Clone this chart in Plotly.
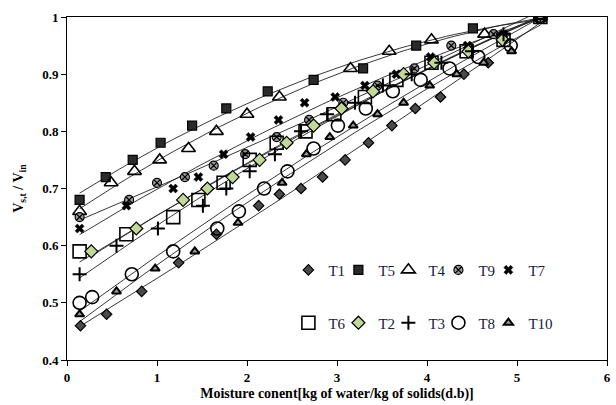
import numpy as np
import plotly.graph_objects as go

# ---- data ----
t1_x = [0.15, 0.44, 0.83, 1.24, 1.66, 2.13, 2.36, 2.60, 2.84, 3.09, 3.35, 3.61, 3.87, 4.15, 4.41, 4.68, 5.26]
t1_y = [0.46, 0.48, 0.52, 0.57, 0.62, 0.67, 0.69, 0.70, 0.72, 0.75, 0.78, 0.81, 0.84, 0.86, 0.90, 0.92, 1.00]

t5_x = [0.14, 0.43, 0.73, 1.04, 1.39, 1.77, 2.23, 2.74, 3.29, 3.88, 4.51, 5.26]
t5_y = [0.68, 0.72, 0.75, 0.78, 0.81, 0.84, 0.87, 0.89, 0.91, 0.95, 0.98, 1.00]

t4_x = [0.14, 0.49, 0.75, 1.03, 1.35, 1.66, 2.00, 2.36, 3.15, 3.58, 4.05, 4.64, 5.26]
t4_y = [0.66, 0.71, 0.73, 0.75, 0.77, 0.80, 0.83, 0.86, 0.91, 0.94, 0.96, 0.97, 1.00]

t9_x = [0.14, 0.69, 1.00, 1.31, 1.63, 1.98, 2.33, 2.69, 3.07, 3.45, 3.86, 4.27, 4.74, 5.26]
t9_y = [0.65, 0.68, 0.71, 0.72, 0.74, 0.76, 0.79, 0.82, 0.85, 0.88, 0.91, 0.95, 0.97, 1.00]

t7_x = [0.14, 0.66, 1.18, 1.46, 1.74, 2.04, 2.35, 2.64, 2.98, 3.31, 3.66, 4.04, 4.45, 4.85, 5.26]
t7_y = [0.63, 0.67, 0.70, 0.72, 0.76, 0.79, 0.82, 0.85, 0.86, 0.88, 0.90, 0.93, 0.95, 0.97, 1.00]

t6_x = [0.14, 0.66, 1.18, 1.46, 1.74, 2.03, 2.33, 2.65, 2.97, 3.31, 3.66, 4.05, 4.44, 4.85, 5.26]
t6_y = [0.59, 0.62, 0.65, 0.68, 0.71, 0.75, 0.78, 0.80, 0.83, 0.86, 0.89, 0.92, 0.94, 0.96, 1.00]

t2_x = [0.27, 0.77, 1.29, 1.56, 1.84, 2.14, 2.44, 2.74, 3.05, 3.40, 3.74, 4.08, 4.46, 4.84, 5.26]
t2_y = [0.59, 0.63, 0.68, 0.70, 0.72, 0.75, 0.78, 0.81, 0.84, 0.87, 0.90, 0.92, 0.94, 0.96, 1.00]

t3_x = [0.14, 0.55, 1.01, 1.51, 1.77, 2.03, 2.31, 2.60, 2.89, 3.20, 3.51, 3.83, 4.16, 4.50, 4.85, 5.26]
t3_y = [0.55, 0.60, 0.63, 0.67, 0.70, 0.73, 0.76, 0.80, 0.83, 0.85, 0.88, 0.90, 0.92, 0.94, 0.97, 1.00]

t8_x = [0.14, 0.28, 0.72, 1.18, 1.67, 1.91, 2.19, 2.45, 2.74, 3.01, 3.32, 3.62, 3.93, 4.25, 4.57, 4.93, 5.26]
t8_y = [0.50, 0.51, 0.55, 0.59, 0.63, 0.66, 0.70, 0.73, 0.77, 0.81, 0.84, 0.87, 0.89, 0.91, 0.93, 0.95, 1.00]

t10_x = [0.14, 0.55, 0.98, 1.42, 1.90, 2.39, 2.66, 2.92, 3.18, 3.45, 3.74, 4.03, 4.33, 4.63, 4.94, 5.26]
t10_y = [0.48, 0.52, 0.56, 0.59, 0.64, 0.71, 0.76, 0.79, 0.81, 0.83, 0.85, 0.88, 0.90, 0.92, 0.94, 1.00]

x_ticks = [0, 1, 2, 3, 4, 5, 6]
y_ticks = [0.4, 0.5, 0.6, 0.7, 0.8, 0.9, 1.0]
y_ticktext = ["0.4", "0.5", "0.6", "0.7", "0.8", "0.9", "1"]

SERIF = "Liberation Serif"

series = [
    # name, x, y, marker style, legend group, last-in-row
    ("T1", t1_x, t1_y, dict(symbol="diamond", size=8, color="#4a4a4a", line=dict(color="black", width=1.2)), "legend", False),
    ("T5", t5_x, t5_y, dict(symbol="square", size=9, color="#2a2a2a", line=dict(color="black", width=1.2)), "legend", False),
    ("T4", t4_x, t4_y, dict(symbol="triangle-up-open", size=12, color="black", line=dict(color="black", width=1.6)), "legend", False),
    ("T9", t9_x, t9_y, dict(symbol="circle-x", size=9, color="#9a9a9a", line=dict(color="black", width=1.2)), "legend", False),
    ("T7", t7_x, t7_y, dict(symbol="x", size=8, color="black", line=dict(color="black", width=0.5)), "legend", True),
    ("T6", t6_x, t6_y, dict(symbol="square-open", size=13, color="black", line=dict(color="black", width=1.6)), "legend2", False),
    ("T2", t2_x, t2_y, dict(symbol="diamond", size=10, color="#c4d79b", line=dict(color="black", width=1.2)), "legend2", False),
    ("T3", t3_x, t3_y, dict(symbol="cross-thin-open", size=10, color="black", line=dict(color="black", width=2)), "legend2", False),
    ("T8", t8_x, t8_y, dict(symbol="circle-open", size=13, color="black", line=dict(color="black", width=1.6)), "legend2", False),
    ("T10", t10_x, t10_y, dict(symbol="triangle-up", size=8, color="#9a9a9a", line=dict(color="black", width=2)), "legend2", True),
]

fig = go.Figure()

# trend lines (2nd-order fits of each series)
for name, xs, ys, mk, lg, last in series:
    xa = np.array(xs)
    ya = np.array(ys)
    coef = np.polyfit(xa, ya, 2)
    xf = np.linspace(xa.min(), xa.max(), 60)
    fig.add_trace(go.Scatter(x=xf, y=np.polyval(coef, xf), mode="lines",
                             line=dict(color="#222222", width=0.9),
                             showlegend=False, hoverinfo="skip"))

for name, xs, ys, mk, lg, last in series:
    fig.add_trace(go.Scatter(x=xs, y=ys, mode="markers", name=name, marker=mk,
                             legend=lg, legendwidth=(30 if last else 5)))

legend_common = dict(
    orientation="h", xanchor="left", yanchor="middle",
    entrywidthmode="pixels",
    bgcolor="rgba(0,0,0,0)", borderwidth=0,
    font=dict(family=SERIF, size=15, color="#1a1a3a"),
    traceorder="normal",
)

fig.update_layout(
    width=616, height=405,
    margin=dict(l=67, r=9, t=17, b=45),
    paper_bgcolor="white", plot_bgcolor="white",
    font=dict(family=SERIF, color="black"),
    legend=dict(x=0.41, y=0.262, **legend_common),
    legend2=dict(x=0.41, y=0.108, **legend_common),
    xaxis=dict(
        range=[0, 6], tickvals=x_ticks, ticktext=[str(v) for v in x_ticks],
        showgrid=False, zeroline=False, automargin=False,
        showline=True, linecolor="black", linewidth=1, mirror=True,
        ticks="outside", ticklen=5, tickcolor="black",
        tickfont=dict(family=SERIF, size=13, color="black", weight="bold"),
        title=dict(text="Moisture conent[kg of water/kg of solids(d.b)]",
                   font=dict(family=SERIF, size=14, color="black", weight="bold"),
                   standoff=4),
    ),
    yaxis=dict(
        range=[0.4, 1.0], tickvals=y_ticks, ticktext=y_ticktext,
        showgrid=False, zeroline=False, automargin=False,
        showline=True, linecolor="black", linewidth=1, mirror=True,
        ticks="outside", ticklen=5, tickcolor="black",
        tickfont=dict(family=SERIF, size=13, color="black", weight="bold"),
        title=dict(text="V<sub>s,t</sub> / V<sub>in</sub>",
                   font=dict(family=SERIF, size=14, color="black", weight="bold")),
    ),
)

fig.write_html("out.html")
